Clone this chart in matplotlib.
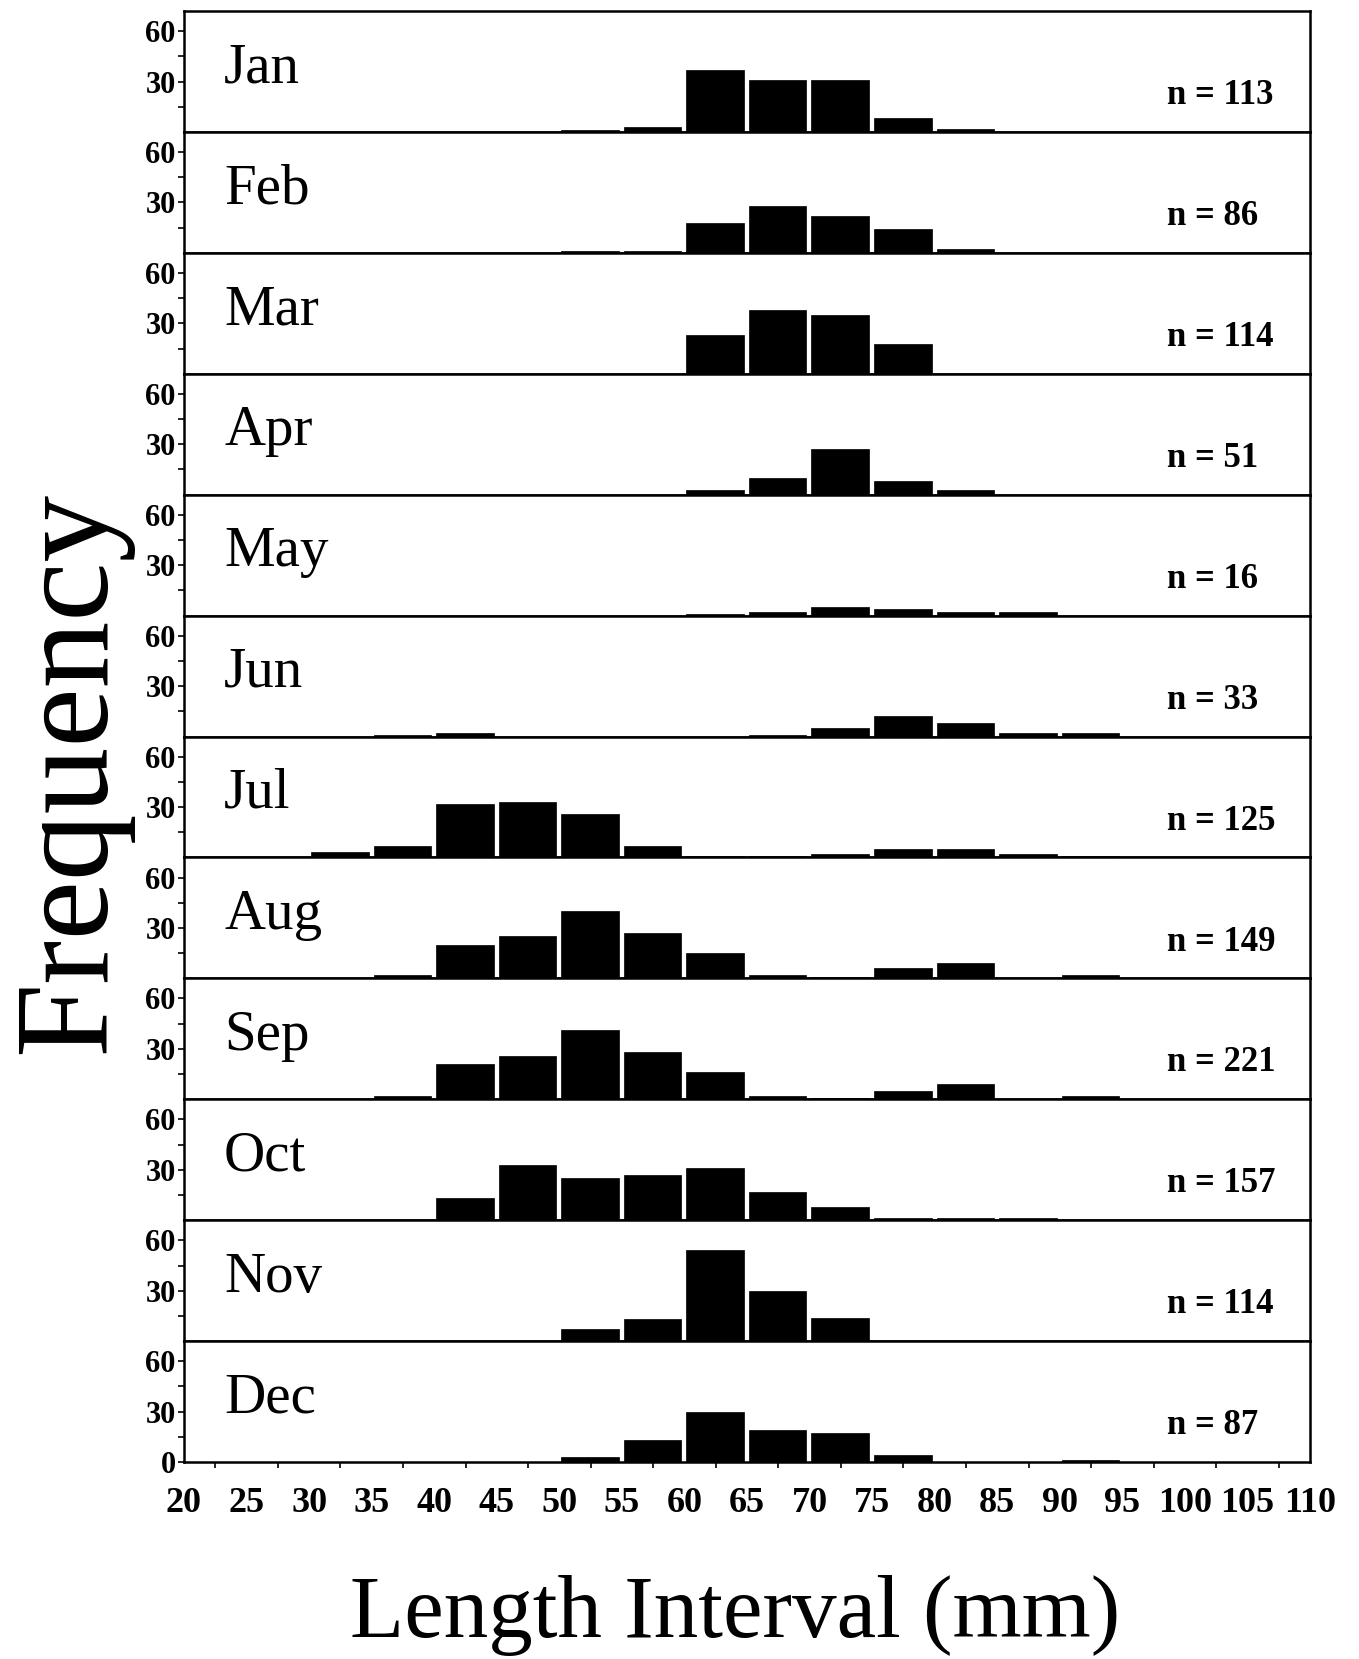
import matplotlib
matplotlib.use("Agg")
import matplotlib.pyplot as plt
import numpy as np

plt.rcParams['font.family'] = ['Liberation Serif', 'DejaVu Serif']

# ---- data ----
bin_edges = [20, 25, 30, 35, 40, 45, 50, 55, 60, 65, 70, 75, 80, 85, 90, 95, 100, 105]
months = ["Jan", "Feb", "Mar", "Apr", "May", "Jun",
          "Jul", "Aug", "Sep", "Oct", "Nov", "Dec"]
n_values = [113, 86, 114, 51, 16, 33, 125, 149, 221, 157, 114, 87]

jan = [0, 0, 0, 0, 0, 0, 1, 3, 37, 31, 31, 8, 2, 0, 0, 0, 0, 0]
feb = [0, 0, 0, 0, 0, 0, 1, 1, 18, 28, 22, 14, 2, 0, 0, 0, 0, 0]
mar = [0, 0, 0, 0, 0, 0, 0, 0, 23, 38, 35, 18, 0, 0, 0, 0, 0, 0]
apr = [0, 0, 0, 0, 0, 0, 0, 0, 3, 10, 27, 8, 3, 0, 0, 0, 0, 0]
may = [0, 0, 0, 0, 0, 0, 0, 0, 1, 2, 5, 4, 2, 2, 0, 0, 0, 0]
jun = [0, 0, 0, 1, 2, 0, 0, 0, 0, 1, 5, 12, 8, 2, 2, 0, 0, 0]
jul = [0, 0, 3, 7, 32, 33, 26, 7, 1, 1, 2, 5, 5, 2, 1, 0, 0, 0]
aug = [0, 0, 0, 2, 20, 25, 40, 27, 15, 2, 1, 6, 9, 0, 2, 0, 0, 0]
sep = [0, 0, 0, 2, 21, 26, 41, 28, 16, 2, 1, 5, 9, 0, 2, 0, 0, 0]
oct_ = [0, 0, 0, 0, 13, 33, 25, 27, 31, 17, 8, 1, 1, 1, 0, 0, 0, 0]
nov = [0, 0, 0, 0, 0, 0, 7, 13, 54, 30, 14, 0, 0, 0, 0, 0, 0, 0]
dec = [0, 0, 0, 0, 0, 0, 3, 13, 30, 19, 17, 4, 0, 0, 1, 0, 0, 0]

counts = [jan, feb, mar, apr, may, jun, jul, aug, sep, oct_, nov, dec]
x_ticks = list(range(20, 111, 5))

# ---- figure ----
W, H = 1359, 1659
fig = plt.figure(figsize=(W / 100, H / 100), dpi=100)
left, right = 184 / W, 1310 / W
top, bottom = 1 - 11 / H, 1 - 1462 / H
axes = fig.subplots(12, 1, sharex=True,
                    gridspec_kw=dict(left=left, right=right, top=top,
                                     bottom=bottom, hspace=0))

edges = np.array(bin_edges, dtype=float)
for i, ax in enumerate(axes):
    ax.bar(edges + 0.15, counts[i], width=4.6, align='edge',
           color='black', edgecolor='black', linewidth=0.5)
    ax.set_xlim(20, 110)
    ax.set_ylim(0, 72)
    for sp in ax.spines.values():
        sp.set_linewidth(1.8)
        sp.set_color('black')
    ax.set_yticks([15, 30, 45, 60] if i < 11 else [0, 15, 30, 45, 60])
    if i < 11:
        ax.set_yticklabels(["", "30", "", "60"])
    else:
        ax.set_yticklabels(["0", "", "30", "", "60"])
    ax.tick_params(axis='y', direction='out', length=4, width=1.2, pad=2,
                   labelsize=22)
    for lab in ax.get_yticklabels():
        lab.set_fontweight('bold')
    ax.set_xticks(x_ticks)
    ax.set_xticks(np.arange(22.5, 110, 5), minor=True)
    ax.tick_params(axis='x', which='major', length=0)
    ax.tick_params(axis='x', which='minor', direction='out', length=4,
                   width=1.2)
    ax.text(23.2, 0.41, months[i], transform=ax.get_xaxis_transform(),
            fontsize=41, ha='left', va='baseline')
    ax.text(98.6, 0.30, f"n = {n_values[i]}",
            transform=ax.get_xaxis_transform(),
            fontsize=25, fontweight='bold', ha='left', va='center')

axes[-1].tick_params(axis='x', which='major', labelsize=26, pad=18)
for lab in axes[-1].get_xticklabels():
    lab.set_fontweight('bold')

fig.text(72 / W, 1 - 772 / H, "Frequency", rotation=90, fontsize=96,
         ha='center', va='center')
fig.text(735 / W, 22 / H, "Length Interval (mm)", fontsize=64,
         ha='center', va='baseline')

fig.savefig("out.png", dpi=100)
